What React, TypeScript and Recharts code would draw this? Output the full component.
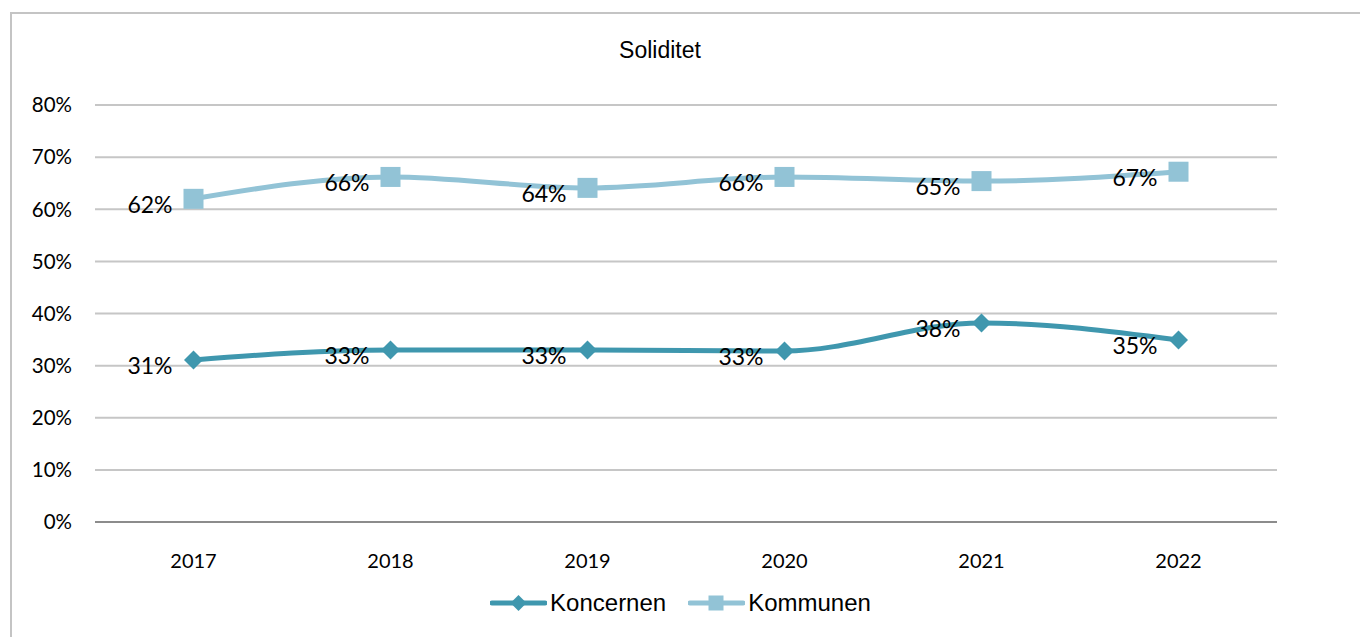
import React from 'react';
import { LineChart, Line, XAxis, YAxis, CartesianGrid, Legend, LabelList } from 'recharts';

const years = ['2017', '2018', '2019', '2020', '2021', '2022'];
const koncernen = [31.1, 33.0, 33.0, 32.8, 38.2, 34.9];
const kommunen = [62.0, 66.2, 64.1, 66.2, 65.4, 67.2];
const yTicks = [0, 10, 20, 30, 40, 50, 60, 70, 80];
const seriesNames = ['Koncernen', 'Kommunen'];

const data = years.map((y, i) => ({ year: y, Koncernen: koncernen[i], Kommunen: kommunen[i] }));

const C1 = '#3f97ae';
const C2 = '#92c3d6';
const TICK_FONT = "Lato, 'Open Sans', sans-serif";
const ARIAL = "'Liberation Sans', Arial, sans-serif";

const Diamond = (props: any) => {
  const { cx, cy } = props;
  if (cx == null || cy == null) return null;
  const r = 9.5;
  return <path d={`M${cx},${cy - r}L${cx + r},${cy}L${cx},${cy + r}L${cx - r},${cy}Z`} fill={C1} />;
};
const Square = (props: any) => {
  const { cx, cy } = props;
  if (cx == null || cy == null) return null;
  const r = 10;
  return <rect x={cx - r} y={cy - r} width={2 * r} height={2 * r} fill={C2} />;
};

const DataLabel = (props: any) => {
  const { x, y, value } = props;
  if (x == null || y == null) return null;
  return (
    <text x={x - 21} y={y + 14} textAnchor="end" fontFamily={TICK_FONT} fontSize={23} fill="#000">
      {Math.round(value)}%
    </text>
  );
};

const LegendContent = () => (
  <div style={{ display: 'flex', justifyContent: 'center', alignItems: 'center', height: 30, paddingLeft: 84, fontFamily: ARIAL, fontSize: 24, color: '#000' }}>
    <div style={{ display: 'flex', alignItems: 'center', marginRight: 22 }}>
      <svg width={57} height={20}>
        <line x1={2} y1={10} x2={55} y2={10} stroke={C1} strokeWidth={5} strokeLinecap="round" />
        <path d="M28.5,2L36.5,10L28.5,18L20.5,10Z" fill={C1} />
      </svg>
      <span style={{ marginLeft: 3 }}>{seriesNames[0]}</span>
    </div>
    <div style={{ display: 'flex', alignItems: 'center' }}>
      <svg width={57} height={20}>
        <line x1={2} y1={10} x2={55} y2={10} stroke={C2} strokeWidth={5} strokeLinecap="round" />
        <rect x={20.5} y={2.5} width={15} height={15} fill={C2} />
      </svg>
      <span style={{ marginLeft: 3 }}>{seriesNames[1]}</span>
    </div>
  </div>
);

export default function App() {
  return (
    <div style={{ position: 'fixed', left: 0, top: 0, width: 1360, height: 637, overflow: 'hidden', background: '#fff' }}>
      <div style={{ position: 'absolute', left: 10, top: 12, width: 1400, height: 700, borderLeft: '2px solid #c4c4c4', borderTop: '2px solid #c4c4c4' }} />
      <div style={{ position: 'absolute', left: 560, top: 37, width: 200, textAlign: 'center', fontFamily: ARIAL, fontSize: 23, color: '#000' }}>
        Soliditet
      </div>
      <div style={{ position: 'absolute', left: 0, top: 0 }}>
        <LineChart width={1360} height={637} data={data} margin={{ top: 105, right: 83, left: 0, bottom: 19 }}>
          <CartesianGrid vertical={false} stroke="#c6c6c6" strokeWidth={2} />
          <XAxis
            dataKey="year"
            height={66}
            padding={{ left: 98.5, right: 98.5 }}
            tickLine={false}
            tickSize={0}
            tickMargin={32}
            axisLine={{ stroke: '#8c8c8c', strokeWidth: 2 }}
            tick={{ fill: '#000', fontSize: 20, fontFamily: TICK_FONT }}
          />
          <YAxis
            width={95}
            domain={[0, 80]}
            ticks={yTicks}
            interval={0}
            axisLine={false}
            tickLine={false}
            tickSize={0}
            tickMargin={23}
            tickFormatter={(v: number) => `${v}%`}
            tick={{ fill: '#000', fontSize: 20.5, fontFamily: TICK_FONT }}
          />
          <Legend verticalAlign="bottom" height={30} content={<LegendContent />} />
          <Line
            type="monotone"
            dataKey="Koncernen"
            stroke={C1}
            strokeWidth={5}
            dot={<Diamond />}
            activeDot={false}
            isAnimationActive={false}
          >
            <LabelList dataKey="Koncernen" content={<DataLabel />} />
          </Line>
          <Line
            type="monotone"
            dataKey="Kommunen"
            stroke={C2}
            strokeWidth={5}
            dot={<Square />}
            activeDot={false}
            isAnimationActive={false}
          >
            <LabelList dataKey="Kommunen" content={<DataLabel />} />
          </Line>
        </LineChart>
      </div>
    </div>
  );
}
